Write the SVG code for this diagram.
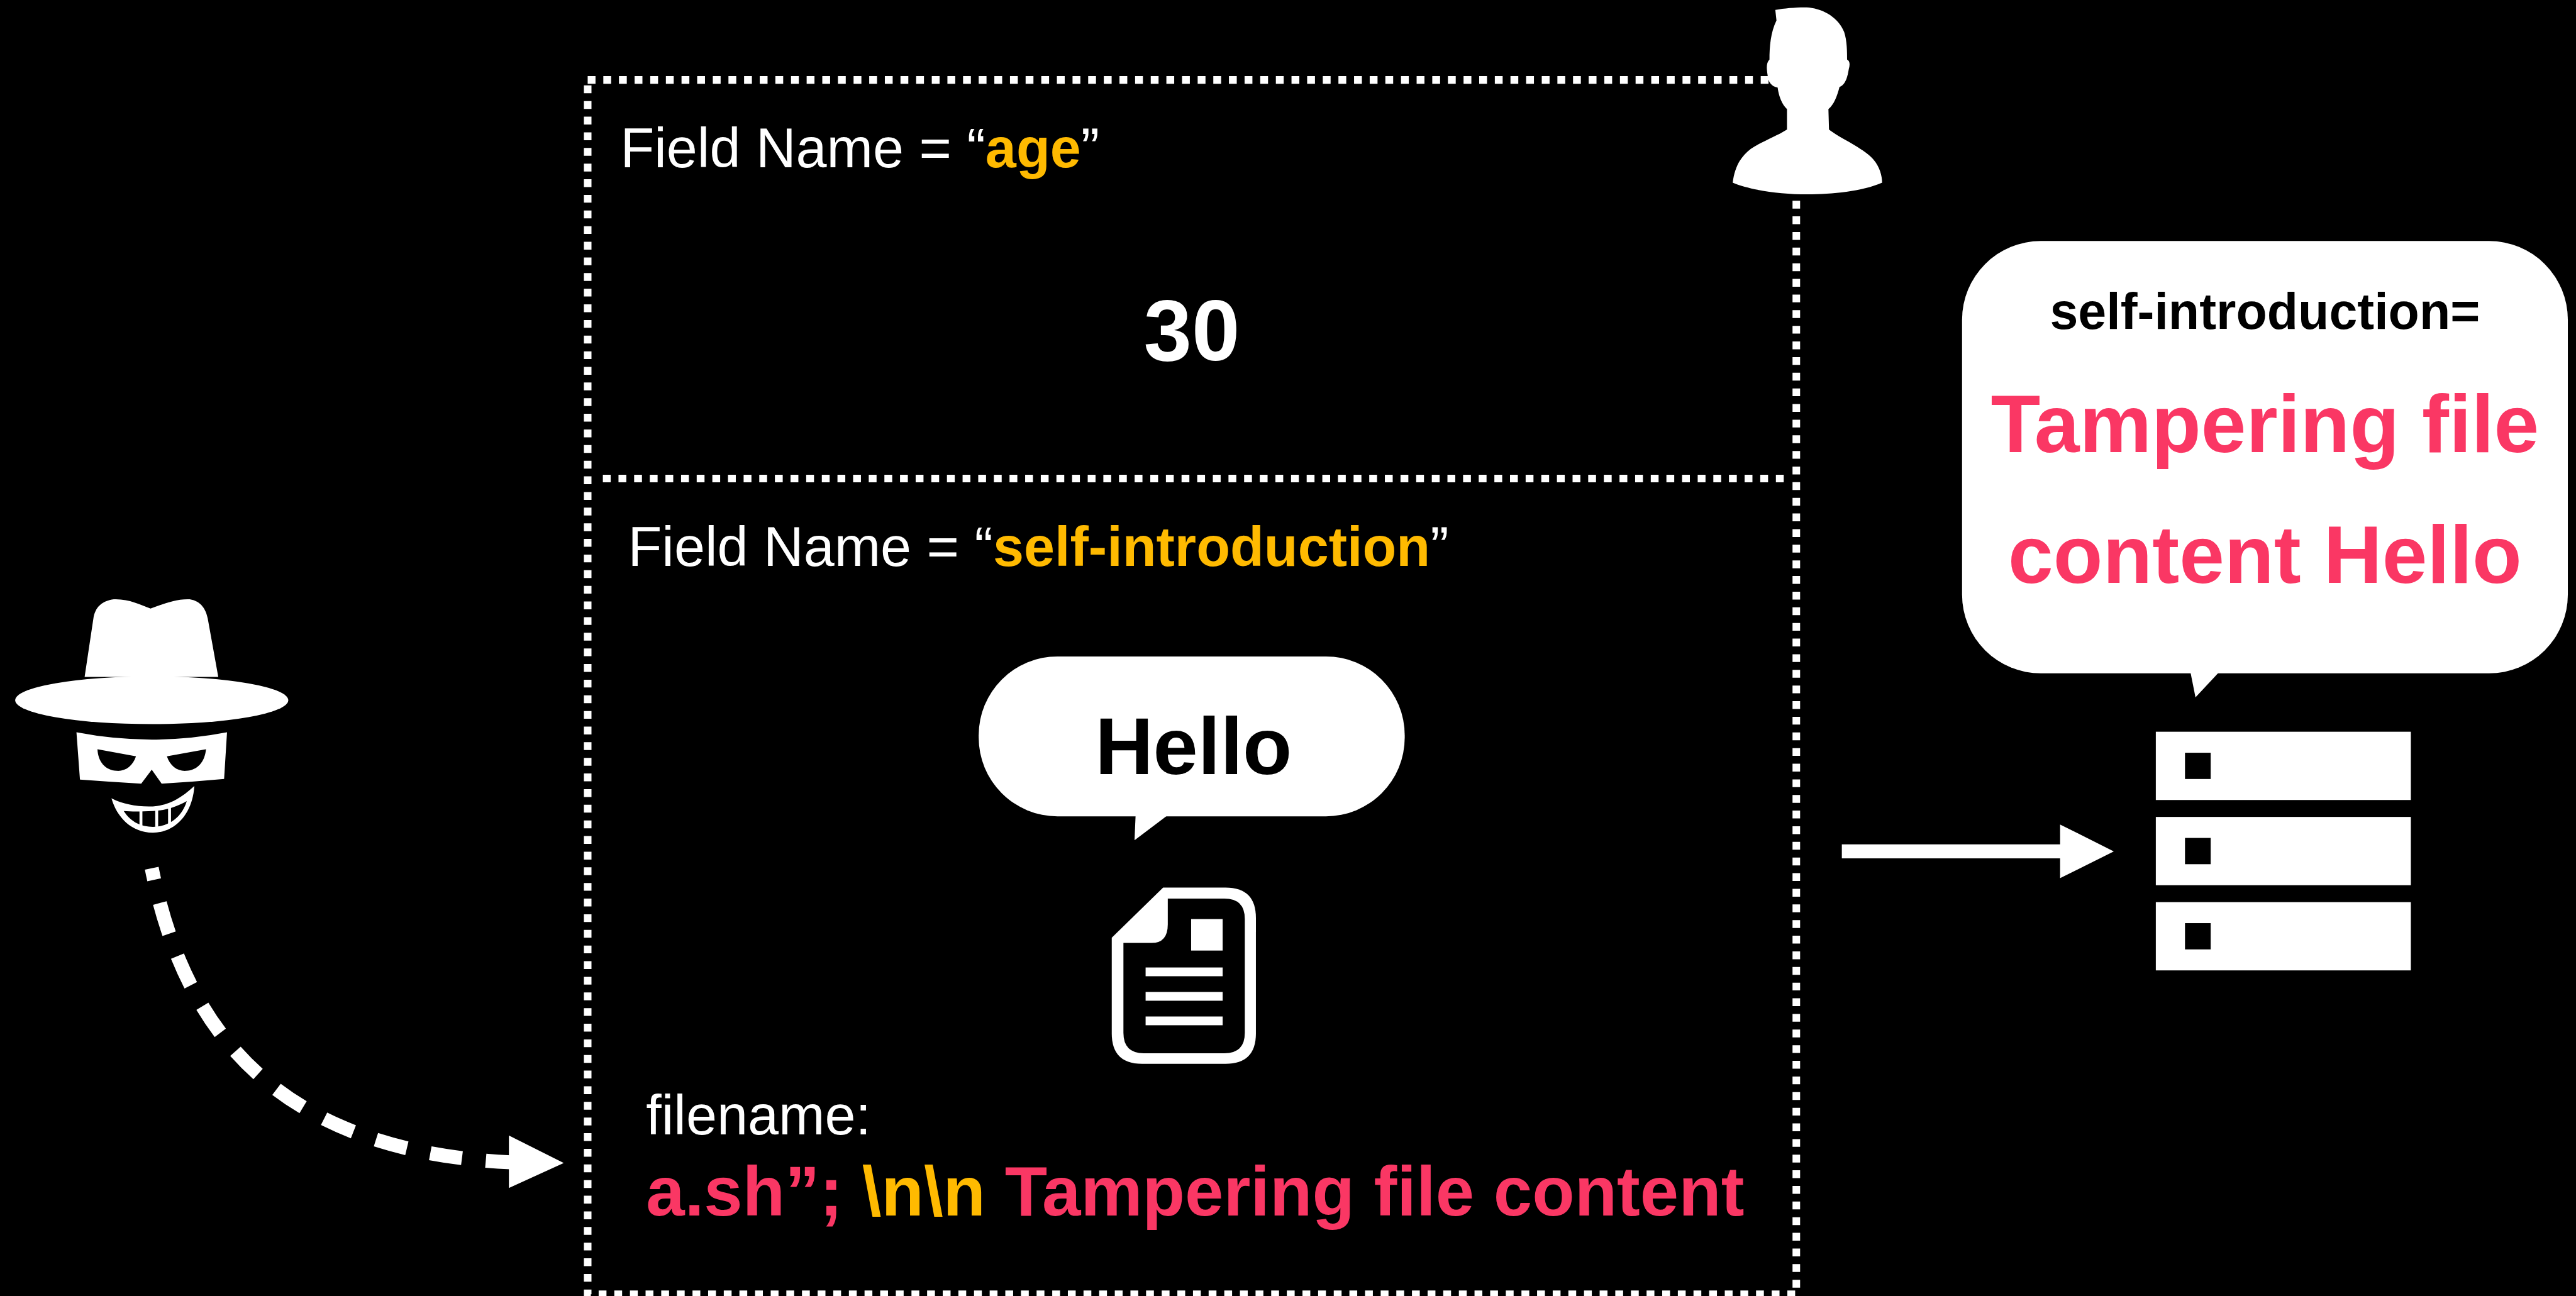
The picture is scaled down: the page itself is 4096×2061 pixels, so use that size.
<svg xmlns="http://www.w3.org/2000/svg" width="4096" height="2061" viewBox="0 0 4096 2061">
  <style>
    .t { font-family: "Liberation Sans", Arial, Helvetica, sans-serif; }
    .w { fill: #ffffff; }
    .b { font-weight: bold; }
    .yel { fill: #FFBA00; }
    .red { fill: #FA3764; }
    .dots { fill: none; stroke: #ffffff; stroke-width: 13; stroke-dasharray: 13.4 13.4; }
    .ink { fill: #ffffff; }
    .cut { fill: #000000; }
  </style>
  <rect x="0" y="0" width="4096" height="2061" fill="#000000"/>
  <g transform="scale(0.92796)">
    <!-- multipart request frame with two form fields -->
    <g id="request">
      <rect class="dots" x="1007" y="137" width="2071" height="2081"/>
      <line class="dots" x1="1033" y1="820" x2="3060" y2="820"/>
    </g>

    <!-- field: age -->
    <g id="field-age">
      <text class="t w" x="1063" y="287" font-size="95">Field Name = “<tspan class="b yel">age</tspan>”</text>
      <text class="t w b" x="2042" y="617" font-size="148" text-anchor="middle">30</text>
    </g>

    <!-- field: self-introduction -->
    <g id="field-intro">
      <text class="t w" x="1076" y="970" font-size="95">Field Name = “<tspan class="b yel">self-introduction</tspan>”</text>
    </g>

    <!-- Hello speech bubble -->
    <g id="hello-bubble">
      <rect class="ink" x="1677" y="1125" width="730" height="274" rx="135" ry="135"/>
      <polygon class="ink" points="1946,1394 2005,1394 1944,1440"/>
      <text class="t b" x="2045" y="1327" font-size="138" text-anchor="middle" fill="#000000">Hello</text>
    </g>

    <!-- document icon -->
    <g id="document">
      <path class="ink" d="M1905,1607 L1993,1521 L2100,1521 Q2152,1521 2152,1573 L2152,1771 Q2152,1823 2100,1823 L1957,1823 Q1905,1823 1905,1771 Z"/>
      <path class="cut" d="M1925,1616 L1973,1616 Q2001,1616 2001,1584 L2001,1540 L2098,1540 Q2133,1540 2133,1575 L2133,1770 Q2133,1805 2098,1805 L1960,1805 Q1925,1805 1925,1770 Z"/>
      <rect class="ink" x="2041" y="1575" width="54" height="54"/>
      <rect class="ink" x="1963" y="1658" width="132" height="15"/>
      <rect class="ink" x="1963" y="1700" width="132" height="15"/>
      <rect class="ink" x="1963" y="1742" width="132" height="15"/>
    </g>

    <!-- injected filename -->
    <g id="filename">
      <text class="t w" x="1107" y="1944" font-size="95">filename:</text>
      <text class="t b red" x="1107" y="2083" font-size="119">a.sh”; <tspan class="yel">\n\n</tspan> Tampering file content</text>
    </g>

    <!-- user silhouette -->
    <g id="user">
      <path class="ink" d="M3042,17 C3060,14 3085,12 3100,13 C3125,16 3150,30 3160,55 C3165,70 3165,90 3165,102 C3170,104 3170,112 3168,118 C3166,130 3163,145 3152,149 C3148,165 3142,180 3133,187 L3134,222 C3150,235 3185,250 3205,268 C3220,282 3225,300 3225,313 C3190,328 3140,333 3097,333 C3050,333 3000,326 2969,313 C2972,290 2980,270 3000,255 C3020,242 3045,233 3062,222 L3062,187 C3053,178 3048,165 3046,150 C3035,148 3030,140 3029,130 C3027,118 3026,108 3032,102 C3032,80 3034,55 3044,35 Z"/>
    </g>

    <!-- attacker -->
    <g id="attacker">
      <path class="ink" d="M145,1160 L160,1060 C163,1040 175,1030 195,1027 C220,1026 240,1036 258,1043 C278,1036 300,1026 325,1027 C345,1030 353,1045 356,1060 L374,1160 Z"/>
      <ellipse class="ink" cx="260" cy="1200" rx="234" ry="41"/>
      <path class="ink" d="M131,1255 Q260,1280 389,1255 L384,1335 Q330,1340 277,1343 L260,1319 L242,1343 Q190,1340 137,1336 Z"/>
      <path class="cut" d="M167,1284 L233,1296 C228,1312 215,1322 200,1321 C180,1320 168,1305 167,1284 Z"/>
      <path class="cut" d="M353,1284 L286,1296 C291,1312 304,1322 319,1321 C339,1320 351,1305 353,1284 Z"/>
      <path class="ink" d="M191,1368 C200,1400 225,1427 262,1427 C300,1427 330,1395 333,1347 C310,1368 290,1380 262,1382 C235,1383 210,1378 191,1368 Z"/>
      <path class="cut" d="M212,1390 C225,1410 243,1417 262,1417 C290,1417 312,1400 320,1373 C300,1384 282,1389 262,1390 C240,1391 225,1391 212,1390 Z"/>
      <rect class="ink" x="239" y="1385" width="5" height="30"/>
      <rect class="ink" x="266" y="1385" width="5" height="32"/>
      <rect class="ink" x="288" y="1383" width="5" height="30"/>
    </g>

    <!-- server receiving the tampered value -->
    <g id="server">
      <rect class="ink" x="3694" y="1254" width="437" height="117"/>
      <rect class="ink" x="3694" y="1400" width="437" height="117"/>
      <rect class="ink" x="3694" y="1546" width="437" height="117"/>
      <rect class="cut" x="3744" y="1290" width="44" height="45"/>
      <rect class="cut" x="3744" y="1436" width="44" height="45"/>
      <rect class="cut" x="3744" y="1582" width="44" height="45"/>
    </g>

    <!-- stored result bubble -->
    <g id="result-bubble">
      <rect class="ink" x="3362" y="413" width="1038" height="741" rx="135" ry="135"/>
      <polygon class="ink" points="3753,1150 3804,1150 3762,1195"/>
      <text class="t b" x="3881" y="564" font-size="87" text-anchor="middle" fill="#000000">self-introduction=</text>
      <text class="t b red" x="3881" y="775" font-size="139" text-anchor="middle">Tampering file</text>
      <text class="t b red" x="3881" y="999" font-size="139" text-anchor="middle">content Hello</text>
    </g>

    <!-- connectors -->
    <g id="connectors">
      <path d="M260,1488 C320,1788 495,1973 875,1992" fill="none" stroke="#ffffff" stroke-width="24" stroke-dasharray="55 41" stroke-dashoffset="35"/>
      <polygon class="ink" points="872,1946 966,1993 872,2036"/>
      <rect class="ink" x="3156" y="1447" width="376" height="24"/>
      <polygon class="ink" points="3530,1413 3622,1459 3530,1505"/>
    </g>
  </g>
</svg>
